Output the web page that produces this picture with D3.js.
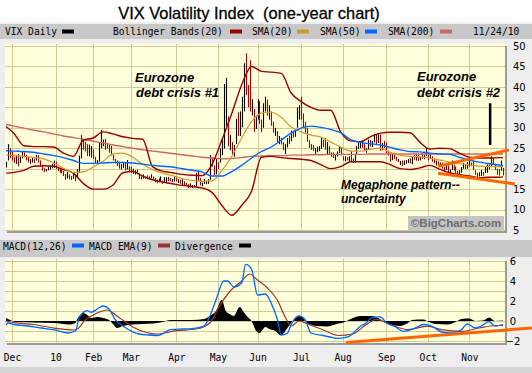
<!DOCTYPE html>
<html><head><meta charset="utf-8">
<script src="https://cdn.jsdelivr.net/npm/d3@7/dist/d3.min.js"></script>
<style>html,body{margin:0;padding:0;background:#fff}svg{display:block}</style>
</head><body>
<svg id="chart" width="532" height="373"></svg>
<script>
// ---------------- DATA ----------------
// daily VIX bars, trading-day index 1 (25 Nov 2009) .. 252 (24 Nov 2010)
const firstDay = 1;
const vixHigh = [
 21.7,26.0,25.0,
 24.2,22.8,23.3,23.6,22.9,24.2,24.0,23.4,22.8,22.3,22.8,22.5,23.4,23.3,22.0,21.0,20.1,19.9,20.5,20.8,21.2,22.0,
 21.7,20.3,19.9,19.8,19.4,18.7,19.2,18.6,18.2,18.9,18.4,19.9,23.2,28.2,27.2,26.6,26.0,25.9,25.5,
 24.7,22.9,22.1,26.4,29.4,27.1,27.3,26.3,25.9,25.6,23.5,22.4,22.0,21.7,21.1,21.6,21.4,22.1,20.6,
 20.5,20.0,19.6,19.8,18.8,18.1,18.6,18.1,18.4,18.1,18.6,18.1,17.7,17.3,17.6,18.1,17.1,17.9,17.9,18.0,17.7,17.5,18.0,
 17.8,17.4,17.3,17.4,16.9,16.5,16.2,16.4,16.0,16.0,19.0,19.4,17.7,16.6,17.5,17.0,17.5,23.3,22.8,20.8,22.4,
 21.6,25.0,27.5,40.7,42.2,32.8,28.2,26.5,25.8,32.2,33.8,34.0,37.6,45.8,48.2,40.5,46.5,37.0,34.6,33.0,
 37.0,36.5,32.0,36.0,37.6,36.9,35.5,34.0,31.5,30.0,29.2,28.0,27.5,26.5,26.0,27.5,28.0,29.3,29.3,29.6,35.0,35.5,
 37.6,33.5,31.5,30.0,27.0,26.0,25.8,25.0,25.4,25.5,27.5,27.1,27.5,26.5,25.5,24.0,24.0,23.5,24.2,25.6,25.3,
 23.0,23.0,22.8,23.0,24.3,22.5,23.3,25.5,26.3,26.5,26.9,26.1,25.0,27.1,27.0,26.8,28.5,28.5,28.4,28.4,26.3,26.8,
 26.4,24.4,23.6,23.8,23.9,22.9,22.4,21.9,22.0,22.0,22.1,22.4,22.5,22.9,23.4,23.6,23.4,22.9,23.7,23.4,25.2,
 23.5,23.8,23.0,22.3,22.0,21.8,21.5,21.5,20.4,21.0,20.8,19.8,22.0,21.0,20.5,19.5,19.6,20.4,21.4,21.0,21.6,
 22.5,21.5,22.0,19.6,19.0,19.1,19.7,19.2,20.5,21.0,21.0,23.0,22.6,21.2,20.0,19.9,22.0,20.2
];
const vixLow = [
 20.3,22.0,22.6,
 22.0,21.4,21.2,20.6,21.4,22.5,22.8,22.0,21.5,21.2,21.5,21.4,22.0,21.5,20.5,19.5,19.2,19.3,19.6,19.8,20.1,20.2,
 19.9,19.4,18.9,18.9,18.2,17.3,17.6,17.4,17.2,17.5,16.9,17.9,19.0,22.5,24.6,24.2,23.1,23.0,22.7,
 22.4,21.3,21.1,21.7,25.0,25.5,24.6,24.9,23.9,23.2,22.0,21.3,20.6,20.0,19.8,20.2,19.6,19.8,19.4,
 19.0,18.7,18.6,18.6,17.5,17.4,17.6,17.5,17.4,17.3,17.6,17.3,16.6,16.4,16.7,16.9,16.3,16.6,16.4,16.9,16.9,16.8,16.9,
 16.9,16.5,16.3,16.0,15.9,15.9,15.2,15.4,15.3,15.5,15.6,17.0,15.9,15.7,16.3,16.2,16.3,17.3,20.5,18.3,18.6,
 19.9,21.5,23.3,24.9,30.5,25.5,24.5,23.5,22.9,26.0,28.0,28.0,30.1,34.0,38.0,35.0,34.0,33.0,29.0,29.7,
 32.0,31.0,28.9,30.0,34.0,33.0,32.0,30.5,28.8,28.0,26.5,26.0,25.9,24.5,23.6,25.2,26.0,26.7,27.6,27.8,30.0,32.0,
 32.0,30.0,28.8,26.6,25.1,24.6,24.4,23.6,24.0,24.3,24.9,25.3,24.6,23.5,23.6,22.9,22.6,22.0,23.0,23.8,23.3,
 22.0,21.8,22.0,21.8,21.6,21.4,21.5,23.4,24.8,25.0,25.1,24.3,23.9,24.6,25.4,25.3,26.4,26.0,26.3,24.4,24.5,25.1,
 23.8,23.2,21.7,22.1,22.4,21.9,21.6,20.9,20.7,20.9,21.2,21.4,21.3,21.1,22.2,22.0,21.9,22.0,22.4,22.3,23.1,
 22.0,22.4,21.7,21.3,20.8,20.5,20.5,20.0,19.3,19.7,19.0,18.8,19.6,19.6,18.9,18.6,18.7,19.0,20.0,19.9,20.0,
 20.5,20.6,19.6,18.5,18.0,18.1,18.2,18.3,18.9,19.0,19.8,20.5,21.0,19.7,18.5,18.3,19.5,18.3
];
const vixClose = [
 20.0,24.7,24.5,
 22.3,21.6,23.0,21.4,22.7,23.9,23.1,22.3,21.6,21.6,22.1,21.7,23.1,21.7,20.7,19.6,19.5,19.6,20.0,20.5,20.5,21.7,
 20.0,19.4,19.2,19.1,18.2,17.6,18.3,17.9,17.6,17.9,17.6,18.7,22.3,27.3,25.4,24.6,23.1,23.7,24.6,
 22.6,21.5,21.6,26.1,26.1,26.6,26.0,25.4,24.0,23.3,22.2,21.7,20.6,20.0,20.6,21.4,19.6,20.2,19.5,
 19.3,18.8,18.8,18.7,17.6,17.8,17.9,17.8,17.6,17.6,18.0,17.7,16.9,16.6,16.9,16.9,16.4,17.6,17.6,17.5,17.0,17.1,17.6,
 17.0,17.0,16.4,16.6,16.5,16.1,15.6,15.6,15.7,15.7,18.4,17.3,16.0,16.3,16.3,16.6,17.5,22.8,21.1,18.4,22.1,
 20.2,23.8,25.6,32.8,41.0,25.5,26.0,23.7,24.9,31.2,29.7,31.2,33.6,45.8,40.1,38.3,34.6,35.5,29.7,32.1,
 35.9,31.0,29.4,35.5,36.9,34.0,35.0,31.0,28.8,29.6,26.9,27.0,26.0,25.0,25.6,27.4,26.6,29.0,28.5,29.0,34.1,34.5,
 32.9,30.1,29.7,26.8,25.7,24.9,24.4,24.6,24.9,25.0,26.3,25.9,24.6,25.6,23.9,23.5,22.7,23.2,24.1,24.1,23.5,
 22.0,22.6,22.2,22.2,22.1,21.7,22.4,25.4,25.7,26.2,26.1,24.3,24.6,26.4,25.5,25.7,27.5,26.7,27.4,24.5,26.2,26.1,
 23.9,23.2,21.7,23.5,22.4,22.0,21.6,21.6,21.5,21.5,22.0,22.4,21.4,22.8,22.4,23.4,22.1,22.9,22.6,23.2,23.7,
 22.5,23.5,21.8,21.6,21.6,20.7,20.7,20.0,19.9,20.0,19.1,19.1,21.0,19.9,19.1,18.8,19.6,19.9,20.7,20.4,21.2,
 21.8,21.0,19.6,18.5,18.3,18.6,19.1,18.4,19.1,20.6,20.2,22.6,21.2,19.8,18.8,18.4,20.6,18.4
];

const sampleDays = [1,5,10,15,20,25,30,35,40,45,50,55,60,65,70,75,80,85,90,95,100,105,110,115,120,125,
  130,135,140,145,150,155,160,165,170,175,180,185,190,195,200,205,210,215,220,225,230,235,240,245,250,252];
const bbUpper = [30.3,28.6,25.6,25.4,25.4,25.3,23.8,23.0,27.0,27.5,29.0,28.5,27.8,27.4,27.2,20.5,19.4,19.0,18.6,18.4,
  18.3,21.0,27.0,33.5,40.5,45.0,43.8,43.6,43.3,38.5,36.4,35.0,34.3,34.3,29.0,26.8,26.6,27.8,28.7,28.9,
  28.9,28.8,26.5,24.8,25.0,24.9,23.8,22.8,22.6,22.6,22.7,22.7];
const bbLower = [18.9,19.1,19.6,20.6,20.7,20.6,19.8,18.9,16.4,15.0,15.0,16.0,19.0,19.3,18.2,17.3,16.7,16.3,15.9,15.6,
  15.3,14.2,11.0,8.6,11.0,14.5,22.8,23.0,22.7,22.5,22.3,22.0,21.0,20.0,20.5,21.7,21.7,21.7,21.7,21.0,
  20.0,19.8,20.2,20.8,19.9,19.0,18.5,18.2,17.8,17.9,17.9,18.0];
const sma20 = [23.4,23.2,23.0,22.7,22.4,21.4,20.1,19.1,19.2,20.4,21.8,23.6,23.8,22.8,21.1,19.8,18.9,18.3,17.6,17.1,
  16.9,17.0,19.5,23.0,27.5,31.5,33.6,33.8,32.6,30.2,29.0,28.2,27.7,26.5,25.3,24.3,24.3,24.7,25.0,24.0,
  23.3,23.0,22.9,22.6,22.1,21.6,21.2,20.9,20.6,20.5,20.5,20.5];
const sma50 = [24.4,24.3,24.2,24.0,23.6,23.2,22.7,22.0,21.3,21.3,21.4,21.5,21.5,21.4,21.1,20.8,20.6,20.4,20.0,19.6,
  19.2,18.2,18.2,19.3,20.8,22.6,24.2,25.3,27.0,28.7,29.9,30.4,30.1,29.6,28.8,27.1,26.4,26.1,25.8,25.2,
  24.6,24.2,24.1,23.8,23.6,23.5,22.8,22.1,21.6,21.2,20.9,20.7];
const sma200 = [30.8,30.4,29.9,29.4,29.0,28.5,28.0,27.6,27.2,26.7,26.3,25.8,25.4,25.0,24.6,24.3,24.0,23.7,23.4,23.1,
  22.8,22.6,22.4,22.5,22.7,23.0,23.1,23.2,23.2,23.3,23.3,23.4,23.4,23.5,23.5,23.5,23.5,23.6,23.6,23.6,
  23.6,23.6,23.6,23.6,23.6,23.6,23.6,23.6,23.6,23.6,23.6,23.6];

// MACD panel
const macdDays = [1,2,5,12,19,25,32,36,38,42,44,47,50,53,56,60,63,68,73,78,84,90,95,101,104,107,111,113,116,120,
  122,125,128,132,135,138,140,143,145,149,152,155,161,166,169,174,180,183,186,190,193,197,202,207,212,216,221,226,231,234,
  238,241,245,248,252];
const macdVals = [-0.4,-0.2,-0.35,-0.5,-0.7,-0.87,-1.2,-1.0,0.35,1.04,0.87,1.2,1.5,1.2,0.17,-0.5,-0.87,-1.3,-1.4,-1.45,
  -0.87,-0.8,-0.76,-0.5,0.52,2.1,4.0,4.0,3.4,3.8,5.66,5.2,2.6,2.7,1.74,0.17,-1.4,-1.25,-0.35,0.52,
  0.17,-1.2,-1.45,-1.66,-1.73,-1.56,-0.52,-0.17,0.35,0.42,-0.17,-0.52,-1.04,-0.76,-0.35,-0.5,-1.1,-1.2,-0.87,-0.28,
  -0.7,-0.5,-0.07,-0.52,-0.35];
const signalDays = [1,5,15,25,36,41,46,52,58,66,77,87,97,104,109,114,120,124,128,133,138,142,145,149,154,161,169,176,183,188,
  195,204,214,221,231,240,248,252];
const signalVals = [0,-0.17,-0.35,-0.7,-0.9,0.1,0.7,1.1,0.35,-0.7,-1.3,-0.97,-0.8,-0.17,1.56,2.95,4.0,4.7,4.1,3.3,
  2.1,0.4,-0.5,0.0,-0.35,-0.87,-1.45,-1.3,-0.35,0.17,-0.35,-0.87,-0.52,-0.87,-1.04,-0.7,-0.45,-0.45];
const divDays = [1,3,6,15,25,33,36,37,40,42,44,47,50,53,55,57,60,65,75,80,84,95,101,104,107,110,112,114,116,119,
  121,123,125,127,129,132,134,137,140,142,145,147,149,151,153,158,163,168,172,175,180,186,189,192,196,200,204,206,212,214,
  218,224,228,231,235,238,242,245,248,252];
const divVals = [0.3,0.1,-0.1,-0.15,-0.2,-0.35,-0.2,0.2,0.8,0.6,0.3,0.4,0.3,0.1,-0.3,-0.7,-0.5,-0.35,-0.25,-0.1,
  0.1,0.1,0.2,0.5,1.0,2.1,1.0,0.7,0.5,1.4,0.9,0.4,0.0,-0.9,-1.2,-0.6,-0.8,-1.0,-1.45,-1.0,
  -0.2,0.3,0.5,0.3,-0.2,-0.5,-0.55,-0.3,-0.1,0.2,0.5,0.5,0.3,-0.1,-0.4,-0.5,-0.2,0.1,0.15,-0.05,
  -0.3,-0.35,-0.1,0.2,0.25,0.0,0.05,0.35,0.0,0.05];

// axes
const monthDays = [4,26,45,64,87,108,128,150,171,193,214,235];
const monthLabels = ["Dec","10","Feb","Mar","Apr","May","Jun","Jul","Aug","Sep","Oct","Nov"];
const priceTicks = [5,10,15,20,25,30,35,40,45,50];
const macdTicks = [-2,0,2,4,6];
const macdGrid = [-2,-1,0,1,2,3,4,5,6];

// annotation trend lines (day, value)
const megaUpper = [[219.2,20.6],[255,24.6]];
const megaLower = [[219.2,18.9],[258,16.25]];
const macdTrend = [[172.7,-2.15],[266.6,-0.7]];
const crisis2Mark = [[245.5,36.0],[245.5,25.8]];

// ---------------- DRAW ----------------
const svg = d3.select('#chart');
const mono = "'DejaVu Sans Mono', monospace";
const sans = "'Liberation Sans', Arial, sans-serif";

const x = d3.scaleLinear().domain([4, 252]).range([12, 503]);
const yP = d3.scaleLinear().domain([5, 50]).range([230, 46]);
const yM = d3.scaleLinear().domain([-2, 6]).range([341, 261]);

const P = {x:5, y:44, w:500, h:187};
const M = {x:5, y:259, w:500, h:84};

svg.append('rect').attr('width',532).attr('height',373).attr('fill','#eeeeee');
svg.append('rect').attr('width',532).attr('height',22).attr('fill','#ffffff');

svg.append('text').attr('x',249).attr('y',19).attr('text-anchor','middle')
  .attr('font-family',sans).attr('font-size',16.4).attr('fill','#000').attr('stroke','#000').attr('stroke-width',0.3)
  .style('white-space','pre').text('VIX Volatility Index  (one-year chart)');

// legend bars
function legendBar(y, h, items, by, sy){
  svg.append('rect').attr('x',0).attr('y',y).attr('width',532).attr('height',h).attr('fill','#c8c8c8');
  items.forEach(it=>{
    svg.append('text').attr('x',it.tx).attr('y',by).attr('font-family',mono).attr('font-size',9.6)
      .attr('fill','#000').text(it.t);
    if(it.c) svg.append('rect').attr('x',it.sx).attr('y',sy).attr('width',12).attr('height',4).attr('fill',it.c);
  });
}
legendBar(24, 15, [
  {t:'VIX Daily', tx:5, sx:62, c:'#000000'},
  {t:'Bollinger Bands(20)', tx:113, sx:230, c:'#990000'},
  {t:'SMA(20)', tx:252, sx:297, c:'#d09a30'},
  {t:'SMA(50)', tx:320, sx:365, c:'#0066ff'},
  {t:'SMA(200)', tx:388, sx:440, c:'#cc6666'},
  {t:'11/24/10', tx:473}
], 35, 29.5);
legendBar(240, 17, [
  {t:'MACD(12,26)', tx:3, sx:72, c:'#0066ff'},
  {t:'MACD EMA(9)', tx:89, sx:158, c:'#993333'},
  {t:'Divergence', tx:175, sx:239, c:'#000000'}
], 250, 243.5);

// panels
function panel(R, id){
  svg.append('rect').attr('x',R.x+2).attr('y',R.y+2).attr('width',R.w).attr('height',R.h).attr('fill','#9a9a9a');
  svg.append('rect').attr('x',R.x).attr('y',R.y).attr('width',R.w).attr('height',R.h).attr('fill','#ffffdc');
  svg.append('clipPath').attr('id',id).append('rect').attr('x',R.x).attr('y',R.y).attr('width',R.w).attr('height',R.h);
}
panel(P,'clipP'); panel(M,'clipM');

const gridColor = '#cccc99';
const gP = svg.append('g').attr('clip-path','url(#clipP)');
gP.selectAll('line.h').data(priceTicks).join('line')
  .attr('x1',P.x).attr('x2',P.x+P.w).attr('y1',d=>Math.round(yP(d))+0.5).attr('y2',d=>Math.round(yP(d))+0.5)
  .attr('stroke',gridColor).attr('stroke-width',1);
gP.selectAll('line.v').data(monthDays).join('line')
  .attr('y1',P.y).attr('y2',P.y+P.h).attr('x1',d=>Math.round(x(d))+0.5).attr('x2',d=>Math.round(x(d))+0.5)
  .attr('stroke',gridColor).attr('stroke-width',1);

const gM = svg.append('g').attr('clip-path','url(#clipM)');
gM.selectAll('line.h').data(macdGrid).join('line')
  .attr('x1',M.x).attr('x2',M.x+M.w).attr('y1',d=>Math.round(yM(d))+0.5).attr('y2',d=>Math.round(yM(d))+0.5)
  .attr('stroke',gridColor).attr('stroke-width',1);
gM.selectAll('line.v').data(monthDays).join('line')
  .attr('y1',M.y).attr('y2',M.y+M.h).attr('x1',d=>Math.round(x(d))+0.5).attr('x2',d=>Math.round(x(d))+0.5)
  .attr('stroke',gridColor).attr('stroke-width',1);

// price bars
const bars = vixHigh.map((h,i)=>({day:firstDay+i, h, l:vixLow[i], up: i===0 || vixClose[i] >= vixClose[i-1]}));
gP.selectAll('line.bar').data(bars).join('line')
  .attr('x1',d=>Math.round(x(d.day))+0.5).attr('x2',d=>Math.round(x(d.day))+0.5)
  .attr('y1',d=>yP(d.h)).attr('y2',d=>yP(d.l))
  .attr('stroke',d=>d.up?'#000000':'#aa0000').attr('stroke-width',1.1);

// indicator lines
function drawLine(g, days, vals, ys, color, w){
  const ln = d3.line().x(d=>x(d[0])).y(d=>ys(d[1])).curve(d3.curveMonotoneX);
  g.append('path').attr('d', ln(d3.zip(days, vals))).attr('fill','none').attr('stroke',color).attr('stroke-width',w);
}
drawLine(gP, sampleDays, sma200, yP, '#cc6666', 1.4);
drawLine(gP, sampleDays, bbUpper, yP, '#990000', 1.4);
drawLine(gP, sampleDays, bbLower, yP, '#990000', 1.4);
drawLine(gP, sampleDays, sma20, yP, '#d09a30', 1.2);
drawLine(gP, sampleDays, sma50, yP, '#0066ff', 1.4);

// MACD
const area = d3.area().x(d=>x(d[0])).y0(yM(0)).y1(d=>yM(d[1])).curve(d3.curveMonotoneX);
gM.append('path').attr('d', area(d3.zip(divDays, divVals))).attr('fill','#000');
drawLine(gM, signalDays, signalVals, yM, '#993333', 1.2);
drawLine(gM, macdDays, macdVals, yM, '#0066ff', 1.3);

// axes
const axP = svg.append('g').attr('transform',`translate(${P.x+P.w},0)`)
  .call(d3.axisRight(yP).tickValues(priceTicks).tickSize(0).tickPadding(8).tickFormat(d3.format('d')));
const axM = svg.append('g').attr('transform',`translate(${M.x+M.w},0)`)
  .call(d3.axisRight(yM).tickValues(macdTicks).tickSize(0).tickPadding(8).tickFormat(d3.format('d')));
axM.selectAll('text').attr('text-anchor','middle').attr('x',8);
const axX = svg.append('g').attr('transform','translate(0,354)')
  .call(d3.axisBottom(x).tickValues(monthDays).tickSize(0).tickPadding(0).tickFormat((d,i)=>monthLabels[i]));
[axP, axM].forEach(a=>{
  a.select('.domain').remove();
  a.selectAll('text').attr('font-family',"'DejaVu Sans', sans-serif").attr('font-size',10).attr('fill','#000');
});
axX.select('.domain').remove();
axX.selectAll('text').attr('font-family',mono).attr('font-size',9.6).attr('fill','#000').attr('dy','0.71em');

svg.append('rect').attr('x',0).attr('y',367).attr('width',532).attr('height',6).attr('fill','#d4d4d4');

// annotations
const ann = svg.append('g').attr('font-family',sans).attr('font-weight','bold').attr('font-style','italic').attr('fill','#000');
ann.append('text').attr('x',135).attr('y',82).attr('font-size',13).text('Eurozone');
ann.append('text').attr('x',136).attr('y',97).attr('font-size',13).text('debt crisis #1');
ann.append('text').attr('x',417).attr('y',81).attr('font-size',13).text('Eurozone');
ann.append('text').attr('x',417).attr('y',97).attr('font-size',13).text('debt crisis #2');
ann.append('text').attr('x',341).attr('y',189).attr('font-size',12).text('Megaphone pattern--');
ann.append('text').attr('x',341).attr('y',203).attr('font-size',12).text('uncertainty');

svg.append('path').attr('d', d3.line().x(d=>x(d[0])).y(d=>yP(d[1]))(crisis2Mark))
  .attr('stroke','#000').attr('stroke-width',2.5).attr('fill','none');
[megaUpper, megaLower].forEach(s=>{
  svg.append('path').attr('d', d3.line().x(d=>x(d[0])).y(d=>yP(d[1]))(s))
    .attr('stroke','#ff6600').attr('stroke-width',3).attr('fill','none');
});
svg.append('path').attr('d', d3.line().x(d=>x(d[0])).y(d=>yM(d[1]))(macdTrend))
  .attr('stroke','#ff6600').attr('stroke-width',3).attr('fill','none');

// watermark
svg.append('rect').attr('x',408).attr('y',216).attr('width',96).attr('height',14).attr('fill','#c4c4c4');
svg.append('text').attr('x',456).attr('y',227).attr('text-anchor','middle').attr('font-family',sans)
  .attr('font-weight','bold').attr('font-size',11.5).attr('fill','#6e6e6e').text('\u00A9BigCharts.com');
</script></body></html>
